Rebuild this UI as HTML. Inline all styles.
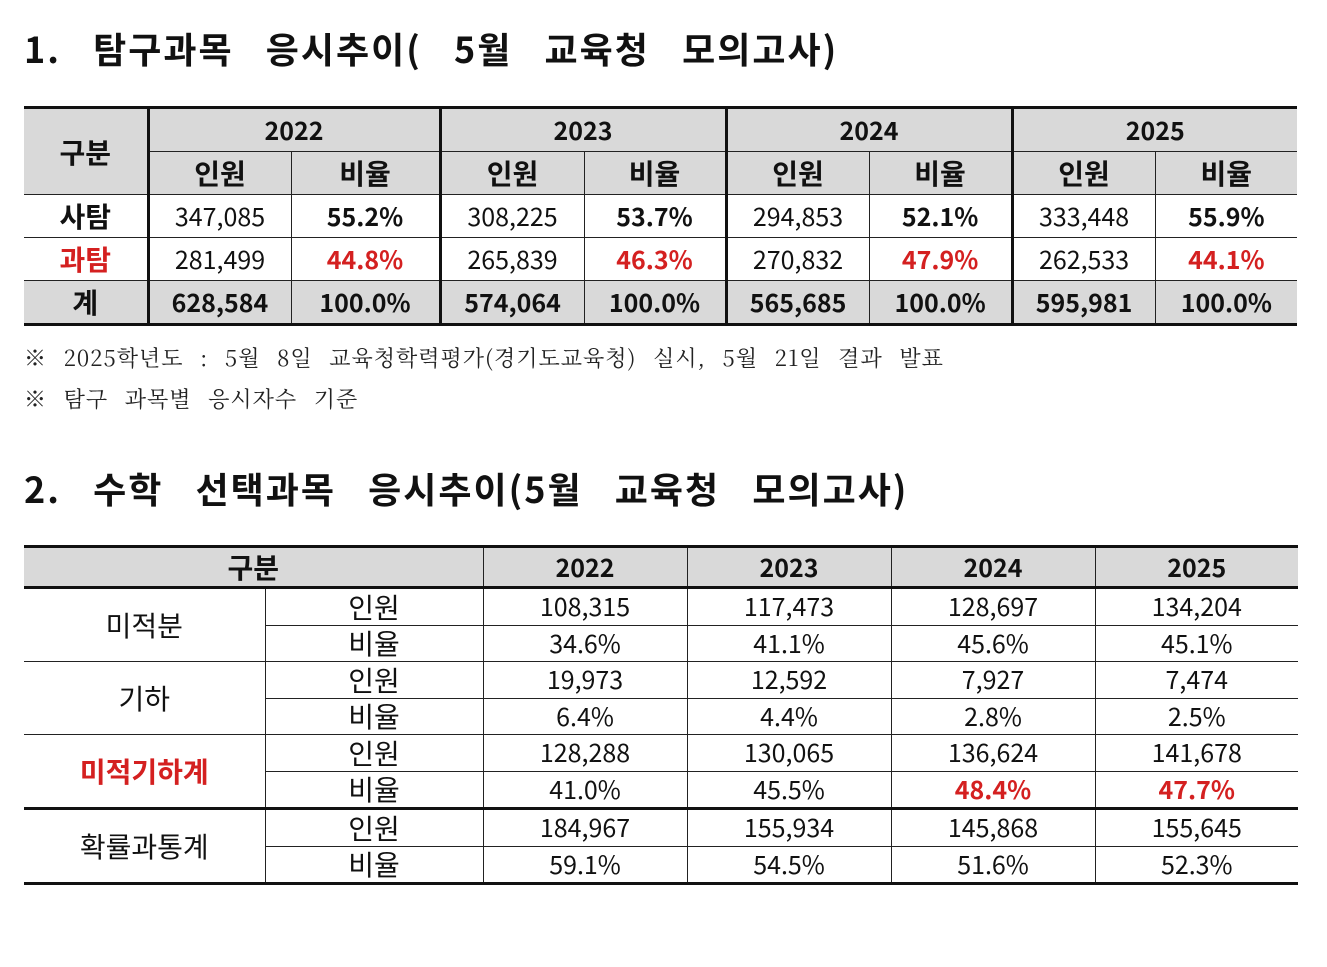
<!DOCTYPE html>
<html><head><meta charset="utf-8"><style>
body{margin:0;width:1327px;height:967px;background:#fff;position:relative;overflow:hidden;font-family:"Liberation Sans","Noto Sans CJK KR",sans-serif;color:#111}
.t{position:absolute;left:24px;font-weight:bold;font-size:36px;font-family:"Noto Sans CJK KR",sans-serif;letter-spacing:2px;word-spacing:22px;line-height:1}
.n{position:absolute;left:24px;font-size:22px;font-family:"Noto Serif CJK SC","Noto Sans CJK KR",serif;color:#222;line-height:1;letter-spacing:1px;word-spacing:10px}
table{position:absolute;border-collapse:collapse;table-layout:fixed;font-family:"Noto Sans CJK KR",sans-serif}
td{text-align:center;padding:0;border:1px solid #222;font-size:25px;line-height:1;overflow:hidden;white-space:nowrap}
td.l0{border-left:none}td.r0{border-right:none}
.k{font-size:28px}
.g{background:#d9d9d9}.b{font-weight:bold}.r{color:#d42020}
#t1 td{height:42px}
#t2 td{height:35.5px}
</style></head><body>
<div class="t" style="top:30px">1. 탐구과목 응시추이( 5월 교육청 모의고사)</div>
<table id="t1" style="left:24px;top:106px;width:1273px">
<colgroup><col style="width:124px"><col style="width:143px"><col style="width:149px"><col style="width:144px"><col style="width:142px"><col style="width:143px"><col style="width:143px"><col style="width:143px"><col style="width:142px"></colgroup>
<tr class="g b" style="border-top:3px solid #111"><td class="l0 k" rowspan="2" style="border-right:3px solid #111;vertical-align:middle">구분</td><td colspan="2" style="border-right:3px solid #111">2022</td><td colspan="2" style="border-right:3px solid #111">2023</td><td colspan="2" style="border-right:3px solid #111">2024</td><td colspan="2" class="r0">2025</td></tr>
<tr class="g b"><td class="k">인원</td><td class="k" style="border-right:3px solid #111">비율</td><td class="k">인원</td><td class="k" style="border-right:3px solid #111">비율</td><td class="k">인원</td><td class="k" style="border-right:3px solid #111">비율</td><td class="k">인원</td><td class="r0 k">비율</td></tr>
<tr><td class="l0 b k" style="border-right:3px solid #111">사탐</td><td>347,085</td><td class="b" style="border-right:3px solid #111">55.2%</td><td>308,225</td><td class="b" style="border-right:3px solid #111">53.7%</td><td>294,853</td><td class="b" style="border-right:3px solid #111">52.1%</td><td>333,448</td><td class="b r0">55.9%</td></tr>
<tr><td class="l0 b r k" style="border-right:3px solid #111">과탐</td><td>281,499</td><td class="b r" style="border-right:3px solid #111">44.8%</td><td>265,839</td><td class="b r" style="border-right:3px solid #111">46.3%</td><td>270,832</td><td class="b r" style="border-right:3px solid #111">47.9%</td><td>262,533</td><td class="b r r0">44.1%</td></tr>
<tr class="g b" style="border-bottom:3px solid #111"><td class="l0 k" style="border-right:3px solid #111">계</td><td>628,584</td><td style="border-right:3px solid #111">100.0%</td><td>574,064</td><td style="border-right:3px solid #111">100.0%</td><td>565,685</td><td style="border-right:3px solid #111">100.0%</td><td>595,981</td><td class="r0">100.0%</td></tr>
</table>
<div class="n" style="top:347px">※ 2025학년도 : 5월 8일 교육청학력평가(경기도교육청) 실시, 5월 21일 결과 발표</div>
<div class="n" style="top:388px">※ 탐구 과목별 응시자수 기준</div>
<div class="t" style="top:470px">2. 수학 선택과목 응시추이(5월 교육청 모의고사)</div>
<table id="t2" style="left:24px;top:545px;width:1274px">
<colgroup><col style="width:241px"><col style="width:218px"><col style="width:204px"><col style="width:204px"><col style="width:204px"><col style="width:203px"></colgroup>
<tr class="g b" style="border-top:3px solid #111;border-bottom:3px solid #111"><td class="l0 k" colspan="2" style="height:38px">구분</td><td>2022</td><td>2023</td><td>2024</td><td class="r0">2025</td></tr>
<tr><td class="l0 k" rowspan="2">미적분</td><td class="k">인원</td><td>108,315</td><td>117,473</td><td>128,697</td><td class="r0">134,204</td></tr>
<tr><td class="k">비율</td><td>34.6%</td><td>41.1%</td><td>45.6%</td><td class="r0">45.1%</td></tr>
<tr><td class="l0 k" rowspan="2">기하</td><td class="k">인원</td><td>19,973</td><td>12,592</td><td>7,927</td><td class="r0">7,474</td></tr>
<tr><td class="k">비율</td><td>6.4%</td><td>4.4%</td><td>2.8%</td><td class="r0">2.5%</td></tr>
<tr><td class="l0 b r k" rowspan="2">미적기하계</td><td class="k">인원</td><td>128,288</td><td>130,065</td><td>136,624</td><td class="r0">141,678</td></tr>
<tr style="border-bottom:3px solid #111"><td class="k">비율</td><td>41.0%</td><td>45.5%</td><td class="b r">48.4%</td><td class="b r r0">47.7%</td></tr>
<tr><td class="l0 k" rowspan="2">확률과통계</td><td class="k">인원</td><td>184,967</td><td>155,934</td><td>145,868</td><td class="r0">155,645</td></tr>
<tr style="border-bottom:3px solid #111"><td class="k">비율</td><td>59.1%</td><td>54.5%</td><td>51.6%</td><td class="r0">52.3%</td></tr>
</table>
</body></html>
